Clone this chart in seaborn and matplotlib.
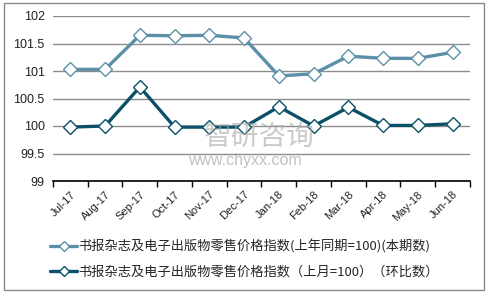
import matplotlib
matplotlib.use("Agg")
import matplotlib.pyplot as plt
import seaborn as sns
import pandas as pd
from matplotlib.patches import Rectangle
from matplotlib.lines import Line2D

months = ["Jul-17", "Aug-17", "Sep-17", "Oct-17", "Nov-17", "Dec-17",
          "Jan-18", "Feb-18", "Mar-18", "Apr-18", "May-18", "Jun-18"]
yoy = [101.03, 101.03, 101.65, 101.64, 101.65, 101.60,
       100.91, 100.95, 101.27, 101.23, 101.23, 101.34]
mom = [99.98, 100.0, 100.71, 99.98, 99.98, 99.98,
       100.35, 100.0, 100.34, 100.01, 100.01, 100.04]
label_yoy = "书报杂志及电子出版物零售价格指数(上年同期=100)(本期数)"
label_mom = "书报杂志及电子出版物零售价格指数（上月=100）（环比数）"
yticks = [99, 99.5, 100, 100.5, 101, 101.5, 102]
ytick_labels = ["99", "99.5", "100", "100.5", "101", "101.5", "102"]

sns.set_theme(style="white")
plt.rcParams["font.family"] = ["Liberation Sans", "Noto Sans CJK SC", "DejaVu Sans"]

c1 = "#5b90a8"
c2 = "#0b5068"

df = pd.DataFrame({"idx": list(range(len(months))) * 2,
                   "value": yoy + mom,
                   "series": [label_yoy] * len(months) + [label_mom] * len(months)})

fig = plt.figure(figsize=(4.89, 2.94), dpi=100)
ax = fig.add_axes([53 / 489, 1 - 181 / 294, (470 - 53) / 489, (181 - 16) / 294])

# watermark
fig.text(259 / 489, 1 - 137 / 294, "智研咨询", fontsize=20, color="#a8a8a8", alpha=0.6,
         family=["Noto Sans CJK SC", "DejaVu Sans"], ha="center", va="center", zorder=0)
fig.text(245 / 489, 1 - 160 / 294, "www.chyxx.com", fontsize=11.5, color="#a8a8a8", alpha=0.7,
         ha="center", va="center", zorder=0)

sns.lineplot(data=df, x="idx", y="value", hue="series", palette=[c1, c2],
             sort=False, linewidth=2.4, marker="D", markersize=7,
             markerfacecolor="white", markeredgewidth=1.0, ax=ax, legend=False)
for line, c in zip(ax.get_lines(), [c1, c2]):
    line.set_markeredgecolor(c)

ax.patch.set_alpha(0)
ax.set_xlim(-0.5, len(months) - 0.5)
ax.set_ylim(99, 102)
ax.set_yticks(yticks)
ax.set_yticklabels(ytick_labels, fontsize=9, color="#222222")
ax.yaxis.grid(True, color="#8c8c8c", linewidth=1.0)
ax.set_axisbelow(True)
ax.tick_params(axis="y", length=0, pad=6)

ax.set_xticks(range(len(months)))
ax.set_xticklabels(months, rotation=45, ha="right", rotation_mode="anchor",
                   fontsize=8, color="#222222")
ax.set_xticks([i - 0.5 for i in range(len(months) + 1)], minor=True)
ax.tick_params(axis="x", which="major", length=0, pad=6)
ax.tick_params(axis="x", which="minor", length=4, width=1, color="black", direction="out", bottom=True)
ax.set_xlabel("")
ax.set_ylabel("")
for s in ["top", "right", "left"]:
    ax.spines[s].set_visible(False)
ax.spines["bottom"].set_color("black")
ax.spines["bottom"].set_linewidth(1.2)

handles = [Line2D([], [], color=c1, linewidth=2.4, marker="D", markersize=5,
                  markerfacecolor="white", markeredgecolor=c1),
           Line2D([], [], color=c2, linewidth=2.4, marker="D", markersize=5,
                  markerfacecolor="white", markeredgecolor=c2)]
fig.legend(handles, [label_yoy, label_mom], loc="center", bbox_to_anchor=(0.5, 1 - 259 / 294),
           ncol=1, frameon=False, handlelength=2.0, handletextpad=0.1,
           labelspacing=0.95, prop={"family": ["Noto Sans CJK SC", "DejaVu Sans"], "size": 9.5})

fig.patches.append(Rectangle((4 / 489, 4 / 294), 480 / 489, 287 / 294,
                             transform=fig.transFigure, fill=False,
                             edgecolor="#8a8a8a", linewidth=1.0))

fig.savefig("out.png", dpi=100)
